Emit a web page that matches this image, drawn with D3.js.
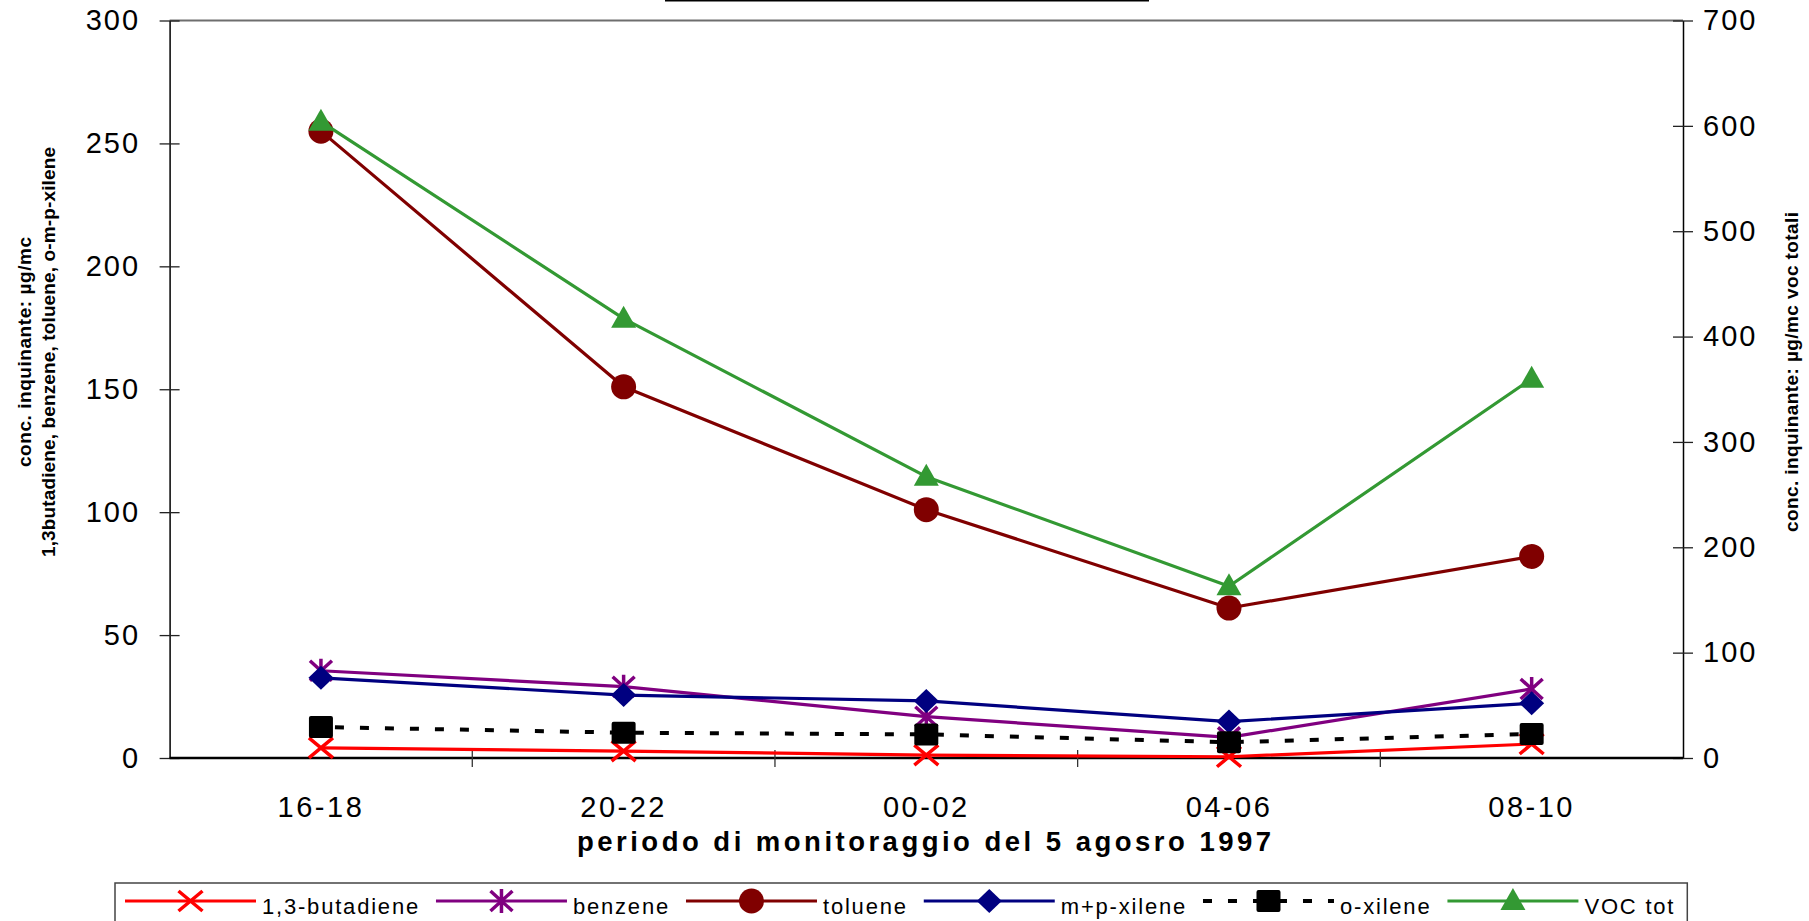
<!DOCTYPE html>
<html><head><meta charset="utf-8">
<script src="https://cdn.jsdelivr.net/npm/d3@7"></script>
<style>body{margin:0;background:#fff;} svg{display:block;}</style>
</head><body>
<svg id="chart" width="1809" height="921"></svg>
<script>
// ---- data ----
const categories = ["16-18", "20-22", "00-02", "04-06", "08-10"];
const butadiene = [4.1, 2.8, 1.2, 0.5, 5.7];
const benzene   = [35.5, 29.0, 16.8, 8.4, 28.1];
const toluene   = [255, 151, 101, 61, 82];
const mpXilene  = [32.6, 25.6, 23.2, 14.8, 22.3];
const oXilene   = [12.6, 10.3, 9.6, 6.4, 9.8];
const vocTot    = [604, 417, 267, 163, 360];
const leftTicks  = [0, 50, 100, 150, 200, 250, 300];
const rightTicks = [0, 100, 200, 300, 400, 500, 600, 700];
const seriesNames = ["1,3-butadiene", "benzene", "toluene", "m+p-xilene", "o-xilene", "VOC tot"];
const xTitle = "periodo di monitoraggio del 5 agosro 1997";
const leftTitle = ["conc. inquinante: \u00b5g/mc", "1,3butadiene, benzene, toluene, o-m-p-xilene"];
const rightTitle = "conc. inquinante: \u00b5g/mc voc totali";

// ---- layout ----
const L = 169.6, R = 1683, T = 20.5, B = 758;
const FONT = "'Liberation Sans', Arial, Helvetica, sans-serif";

const svg = d3.select("#chart");

const x = d3.scaleBand().domain(categories).range([L, R]).paddingInner(0).paddingOuter(0);
const cx = c => x(c) + x.bandwidth() / 2;
const yL = d3.scaleLinear().domain([0, 300]).range([B, T]);
const yR = d3.scaleLinear().domain([0, 700]).range([B, T]);

const markers = {
  x:        {d: "M-12,-10L12,10M-12,10L12,-10", stroke: true},
  asterisk: {d: "M-11,-10L11,10M-11,10L11,-10M0,-12L0,12", stroke: true},
  circle:   {d: "M-12.5,0A12.5,12.5 0 1,0 12.5,0A12.5,12.5 0 1,0 -12.5,0Z"},
  diamond:  {d: "M0,-12L12.5,0L0,12L-12.5,0Z"},
  square:   {d: "M-10,-11L10,-11Q12,-11 12,-9L12,9Q12,11 10,11L-10,11Q-12,11 -12,9L-12,-9Q-12,-11 -10,-11Z"},
  triangle: {d: "M0,-13L12.5,9L-12.5,9Z"}
};

const series = [
  {name: seriesNames[0], values: butadiene, y: yL, color: "#ff0000", marker: "x",        dash: null},
  {name: seriesNames[1], values: benzene,   y: yL, color: "#800080", marker: "asterisk", dash: null},
  {name: seriesNames[2], values: toluene,   y: yL, color: "#800000", marker: "circle",   dash: null},
  {name: seriesNames[3], values: mpXilene,  y: yL, color: "#000080", marker: "diamond",  dash: null},
  {name: seriesNames[4], values: oXilene,   y: yL, color: "#000000", marker: "square",   dash: "9,16"},
  {name: seriesNames[5], values: vocTot,    y: yR, color: "#339933", marker: "triangle", dash: null}
];

function drawMarker(g, type, color, px, py) {
  const m = markers[type];
  const p = g.append("path").attr("d", m.d).attr("transform", `translate(${px},${py})`);
  if (m.stroke) p.attr("fill", "none").attr("stroke", color).attr("stroke-width", 3.5);
  else p.attr("fill", color).attr("stroke", "none");
}

// title underline (title itself lies above the visible area)
svg.append("line").attr("x1", 665).attr("x2", 1149).attr("y1", 0.5).attr("y2", 0.5)
  .attr("stroke", "#000").attr("stroke-width", 2);

// plot frame top
svg.append("line").attr("x1", L).attr("x2", R).attr("y1", T).attr("y2", T)
  .attr("stroke", "#6e6e6e").attr("stroke-width", 2);

function styleTickText(sel) {
  sel.attr("font-family", FONT).attr("font-size", 29).attr("letter-spacing", 2).attr("fill", "#000");
}

// left axis
const gL = svg.append("g").attr("transform", `translate(${L},0)`)
  .call(d3.axisLeft(yL).tickValues(leftTicks).tickSize(0).tickPadding(29.5).tickFormat(d3.format("d")));
gL.select(".domain").attr("stroke", "#000").attr("stroke-width", 1.5);
gL.selectAll(".tick line").attr("x1", -10).attr("x2", 10).attr("stroke", "#222").attr("stroke-width", 1.3);
styleTickText(gL.selectAll(".tick text"));

// right axis
const gR = svg.append("g").attr("transform", `translate(${R},0)`)
  .call(d3.axisRight(yR).tickValues(rightTicks).tickSize(0).tickPadding(20).tickFormat(d3.format("d")));
gR.select(".domain").attr("stroke", "#000").attr("stroke-width", 1.5);
gR.selectAll(".tick line").attr("x1", -10).attr("x2", 10).attr("stroke", "#222").attr("stroke-width", 1.3);
styleTickText(gR.selectAll(".tick text"));

// bottom axis
const gB = svg.append("g").attr("transform", `translate(0,${B})`)
  .call(d3.axisBottom(x).tickSize(0).tickPadding(38.5));
gB.select(".domain").remove();
styleTickText(gB.selectAll(".tick text"));
gB.selectAll(".tick text").attr("letter-spacing", 2.5);
svg.append("line").attr("x1", L).attr("x2", R).attr("y1", B).attr("y2", B).attr("stroke", "#000").attr("stroke-width", 2.5);
// category boundary ticks
svg.append("g").selectAll("line").data(categories.slice(1)).join("line")
  .attr("x1", d => x(d)).attr("x2", d => x(d)).attr("y1", B - 8).attr("y2", B + 9)
  .attr("stroke", "#333").attr("stroke-width", 1.3);

// axis titles
svg.append("text").attr("x", 924).attr("y", 851).attr("text-anchor", "middle")
  .attr("font-family", FONT).attr("font-weight", "bold").attr("font-size", 27.5)
  .attr("textLength", 694).attr("lengthAdjust", "spacing").text(xTitle);

const lt = [{t: leftTitle[0], x: 24, len: 230}, {t: leftTitle[1], x: 48, len: 410}];
lt.forEach(o => {
  svg.append("text").attr("transform", `translate(${o.x},352) rotate(-90)`)
    .attr("text-anchor", "middle").attr("dominant-baseline", "central")
    .attr("font-family", FONT).attr("font-weight", "bold").attr("font-size", 19)
    .attr("textLength", o.len).attr("lengthAdjust", "spacing").text(o.t);
});
svg.append("text").attr("transform", `translate(1791,372) rotate(-90)`)
  .attr("text-anchor", "middle").attr("dominant-baseline", "central")
  .attr("font-family", FONT).attr("font-weight", "bold").attr("font-size", 19)
  .attr("textLength", 320).attr("lengthAdjust", "spacing").text(rightTitle);

// series
const plot = svg.append("g");
series.forEach(s => {
  const g = plot.append("g");
  const line = d3.line().x((d, i) => cx(categories[i])).y(d => s.y(d));
  const p = g.append("path").datum(s.values).attr("d", line)
    .attr("fill", "none").attr("stroke", s.color).attr("stroke-width", s.dash ? 4 : 3.2)
    .attr("stroke-linejoin", "round");
  if (s.dash) p.attr("stroke-dasharray", s.dash).attr("stroke-dashoffset", -14);
  s.values.forEach((v, i) => drawMarker(g, s.marker, s.color, cx(categories[i]), s.y(v)));
});

// legend
const leg = svg.append("g");
const box = leg.append("rect").attr("y", 883).attr("x", 115).attr("height", 80)
  .attr("fill", "#fff").attr("stroke", "#444").attr("stroke-width", 1.5);
let lx = 125, lastEnd = 0;
const ly = 901;
series.forEach(s => {
  const g = leg.append("g");
  const ln = g.append("line").attr("x1", lx).attr("x2", lx + 131).attr("y1", ly).attr("y2", ly)
    .attr("stroke", s.color).attr("stroke-width", s.dash ? 4 : 3.2);
  if (s.dash) ln.attr("stroke-dasharray", "9,16");
  drawMarker(g, s.marker, s.color, lx + 65.5, ly);
  const t = g.append("text").attr("x", lx + 137).attr("y", 914)
    .attr("font-family", FONT).attr("font-size", 22).attr("letter-spacing", 1.8).text(s.name);
  lastEnd = lx + 137 + t.node().getComputedTextLength();
  lx = lastEnd + 16;
});
box.attr("width", lastEnd + 12 - 115);
</script>
</body></html>
